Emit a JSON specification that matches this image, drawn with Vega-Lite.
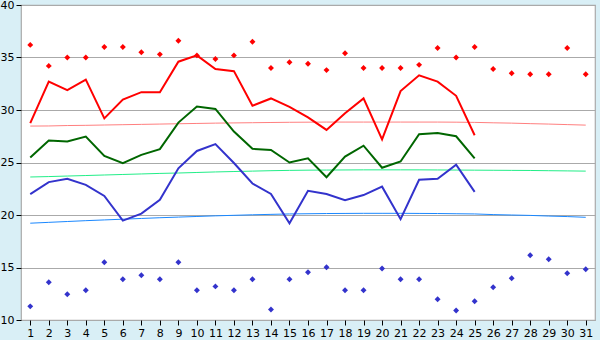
{
  "$schema": "https://vega.github.io/schema/vega-lite/v6.json",
  "width": 574,
  "height": 315,
  "autosize": "none",
  "padding": {"left": 21, "top": 5, "right": 5, "bottom": 20},
  "background": "#d9eff6",
  "view": {"fill": "white", "stroke": "#aaaaaa", "strokeWidth": 1.2},
  "config": {
    "font": "DejaVu Sans",
    "axis": {"labelFont": "DejaVu Sans", "labelFontSize": 11, "labelColor": "black", "tickColor": "black", "domain": false, "title": null}
  },
  "data": {"values": [
    {"day": 1, "tmax": 28.75, "tmean": 25.47, "tmin": 21.98, "nmax": 28.47, "nmean": 23.62, "nmin": 19.22, "rhigh": 36.2, "rlow": 11.3},
    {"day": 2, "tmax": 32.7, "tmean": 27.1, "tmin": 23.13, "nmax": 28.48, "nmean": 23.66, "nmin": 19.3, "rhigh": 34.2, "rlow": 13.6},
    {"day": 3, "tmax": 31.9, "tmean": 27.0, "tmin": 23.44, "nmax": 28.52, "nmean": 23.71, "nmin": 19.38, "rhigh": 35.0, "rlow": 12.45},
    {"day": 4, "tmax": 32.9, "tmean": 27.47, "tmin": 22.87, "nmax": 28.54, "nmean": 23.76, "nmin": 19.46, "rhigh": 35.0, "rlow": 12.83},
    {"day": 5, "tmax": 29.2, "tmean": 25.63, "tmin": 21.82, "nmax": 28.57, "nmean": 23.81, "nmin": 19.53, "rhigh": 36.0, "rlow": 15.5},
    {"day": 6, "tmax": 31.0, "tmean": 24.94, "tmin": 19.47, "nmax": 28.6, "nmean": 23.86, "nmin": 19.6, "rhigh": 36.0, "rlow": 13.88},
    {"day": 7, "tmax": 31.7, "tmean": 25.73, "tmin": 20.13, "nmax": 28.63, "nmean": 23.91, "nmin": 19.67, "rhigh": 35.5, "rlow": 14.26},
    {"day": 8, "tmax": 31.7, "tmean": 26.27, "tmin": 21.44, "nmax": 28.66, "nmean": 23.96, "nmin": 19.74, "rhigh": 35.3, "rlow": 13.88},
    {"day": 9, "tmax": 34.6, "tmean": 28.8, "tmin": 24.45, "nmax": 28.69, "nmean": 24.0, "nmin": 19.8, "rhigh": 36.6, "rlow": 15.5},
    {"day": 10, "tmax": 35.2, "tmean": 30.33, "tmin": 26.1, "nmax": 28.72, "nmean": 24.05, "nmin": 19.86, "rhigh": 35.2, "rlow": 12.83},
    {"day": 11, "tmax": 33.9, "tmean": 30.1, "tmin": 26.75, "nmax": 28.75, "nmean": 24.1, "nmin": 19.92, "rhigh": 34.85, "rlow": 13.2},
    {"day": 12, "tmax": 33.7, "tmean": 27.95, "tmin": 24.95, "nmax": 28.77, "nmean": 24.14, "nmin": 19.97, "rhigh": 35.2, "rlow": 12.83},
    {"day": 13, "tmax": 30.4, "tmean": 26.3, "tmin": 23.0, "nmax": 28.79, "nmean": 24.18, "nmin": 20.02, "rhigh": 36.5, "rlow": 13.88},
    {"day": 14, "tmax": 31.1, "tmean": 26.2, "tmin": 22.0, "nmax": 28.81, "nmean": 24.22, "nmin": 20.06, "rhigh": 34.0, "rlow": 11.0},
    {"day": 15, "tmax": 30.3, "tmean": 25.0, "tmin": 19.22, "nmax": 28.83, "nmean": 24.25, "nmin": 20.1, "rhigh": 34.55, "rlow": 13.88},
    {"day": 16, "tmax": 29.3, "tmean": 25.4, "tmin": 22.3, "nmax": 28.84, "nmean": 24.27, "nmin": 20.12, "rhigh": 34.4, "rlow": 14.55},
    {"day": 17, "tmax": 28.1, "tmean": 23.6, "tmin": 22.0, "nmax": 28.85, "nmean": 24.28, "nmin": 20.14, "rhigh": 33.8, "rlow": 15.02},
    {"day": 18, "tmax": 29.7, "tmean": 25.57, "tmin": 21.4, "nmax": 28.85, "nmean": 24.29, "nmin": 20.15, "rhigh": 35.4, "rlow": 12.83},
    {"day": 19, "tmax": 31.1, "tmean": 26.6, "tmin": 21.9, "nmax": 28.85, "nmean": 24.3, "nmin": 20.16, "rhigh": 34.0, "rlow": 12.83},
    {"day": 20, "tmax": 27.2, "tmean": 24.5, "tmin": 22.7, "nmax": 28.85, "nmean": 24.3, "nmin": 20.16, "rhigh": 34.0, "rlow": 14.9},
    {"day": 21, "tmax": 31.8, "tmean": 25.1, "tmin": 19.6, "nmax": 28.85, "nmean": 24.3, "nmin": 20.16, "rhigh": 34.0, "rlow": 13.88},
    {"day": 22, "tmax": 33.3, "tmean": 27.7, "tmin": 23.35, "nmax": 28.85, "nmean": 24.3, "nmin": 20.15, "rhigh": 34.3, "rlow": 13.88},
    {"day": 23, "tmax": 32.7, "tmean": 27.8, "tmin": 23.45, "nmax": 28.85, "nmean": 24.29, "nmin": 20.14, "rhigh": 35.9, "rlow": 11.97},
    {"day": 24, "tmax": 31.35, "tmean": 27.5, "tmin": 24.8, "nmax": 28.84, "nmean": 24.28, "nmin": 20.12, "rhigh": 35.0, "rlow": 10.9},
    {"day": 25, "tmax": 27.6, "tmean": 25.4, "tmin": 22.2, "nmax": 28.82, "nmean": 24.27, "nmin": 20.1, "rhigh": 36.0, "rlow": 11.78},
    {"day": 26, "nmax": 28.78, "nmean": 24.26, "nmin": 20.04, "rhigh": 33.9, "rlow": 13.12},
    {"day": 27, "nmax": 28.75, "nmean": 24.25, "nmin": 20.0, "rhigh": 33.5, "rlow": 13.98},
    {"day": 28, "nmax": 28.7, "nmean": 24.24, "nmin": 19.96, "rhigh": 33.4, "rlow": 16.17},
    {"day": 29, "nmax": 28.66, "nmean": 24.22, "nmin": 19.9, "rhigh": 33.4, "rlow": 15.79},
    {"day": 30, "nmax": 28.61, "nmean": 24.2, "nmin": 19.85, "rhigh": 35.9, "rlow": 14.45},
    {"day": 31, "nmax": 28.56, "nmean": 24.18, "nmin": 19.78, "rhigh": 33.4, "rlow": 14.83}
  ]},
  "encoding": {
    "x": {"field": "day", "type": "quantitative",
      "scale": {"domain": [0.5, 31.5], "nice": false, "zero": false},
      "axis": {"values": [1,2,3,4,5,6,7,8,9,10,11,12,13,14,15,16,17,18,19,20,21,22,23,24,25,26,27,28,29,30,31], "grid": false, "tickSize": 5, "labelPadding": 2, "labelFlush": false}}
  },
  "layer": [
    {"mark": {"type": "line", "color": "#ff7f7f", "strokeWidth": 1},
     "encoding": {"y": {"field": "nmax", "type": "quantitative",
       "scale": {"domain": [10, 40], "nice": false, "zero": false},
       "axis": {"values": [10,15,20,25,30,35,40], "grid": true, "gridColor": "#aaaaaa", "gridWidth": 1.2, "gridOpacity": 1, "tickSize": 5, "labelPadding": 2}}}},
    {"mark": {"type": "line", "color": "#22ee88", "strokeWidth": 1}, "encoding": {"y": {"field": "nmean", "type": "quantitative"}}},
    {"mark": {"type": "line", "color": "#1a88ff", "strokeWidth": 1}, "encoding": {"y": {"field": "nmin", "type": "quantitative"}}},
    {"mark": {"type": "line", "color": "#ff0000", "strokeWidth": 2}, "encoding": {"y": {"field": "tmax", "type": "quantitative"}}},
    {"mark": {"type": "line", "color": "#006600", "strokeWidth": 2}, "encoding": {"y": {"field": "tmean", "type": "quantitative"}}},
    {"mark": {"type": "line", "color": "#3333cc", "strokeWidth": 2}, "encoding": {"y": {"field": "tmin", "type": "quantitative"}}},
    {"mark": {"type": "point", "shape": "diamond", "filled": true, "color": "#ff0000", "size": 35, "opacity": 1}, "encoding": {"y": {"field": "rhigh", "type": "quantitative"}}},
    {"mark": {"type": "point", "shape": "diamond", "filled": true, "color": "#3333cc", "size": 35, "opacity": 1}, "encoding": {"y": {"field": "rlow", "type": "quantitative"}}}
  ]
}
